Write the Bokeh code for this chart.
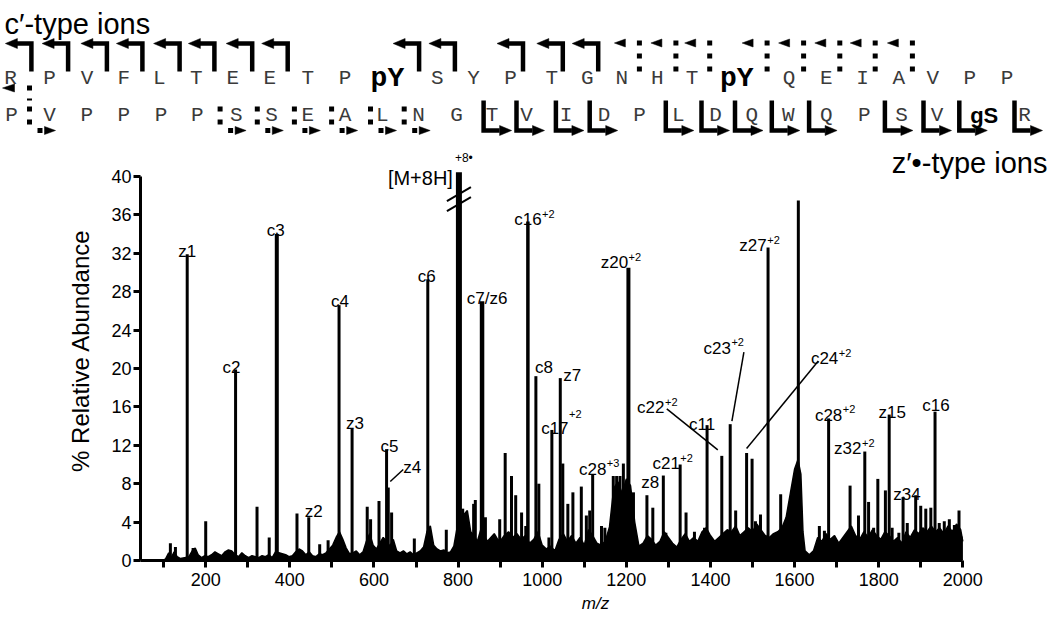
from bokeh.plotting import figure
from bokeh.layouts import column
from bokeh.models import Range1d, FixedTicker
from bokeh.core.properties import value
from bokeh.embed import file_html
from bokeh.resources import INLINE

# ======================= DATA =======================
# peptide sequence map (two rows)
seq_row1 = ["R", "P", "V", "F", "L", "T", "E", "E", "T", "P", "pY", "S", "Y", "P", "T", "G",
            "N", "H", "T", "pY", "Q", "E", "I", "A", "V", "P", "P"]
seq_row2 = ["P", "V", "P", "P", "P", "P", "S", "S", "E", "A", "L", "N", "G", "T", "V", "I",
            "D", "P", "L", "D", "Q", "W", "Q", "P", "S", "V", "gS", "R"]
# observed cleavages (index of residue before the cut)
c_solid_row1 = [0, 1, 2, 3, 4, 5, 6, 7, 10, 11, 13, 14, 15]
c_dotted_row1 = [16, 17, 18, 19, 20, 21, 22, 23]
c_dotted_row2 = [0]
z_solid_row2 = [12, 13, 14, 15, 17, 18, 19, 20, 21, 23, 24, 25, 26]
z_dotted_row2 = [0, 5, 6, 7, 8, 9, 10]

# labelled fragment peaks
ion_name = ["z1", "c2", "c3", "z2", "c4", "z3", "c5", "z4", "c6", "[M+8H]", "c7/z6", "c16", "c8",
            "c17", "z7", "c28", "z20", "z8", "c21", "c11", "c22", "c23", "c24", "z27", "c28",
            "z32", "z15", "z34", "c16"]
ion_charge = ["", "", "", "", "", "", "", "", "", "+8•", "", "+2", "", "+2", "", "+3", "+2", "",
              "+2", "", "+2", "+2", "+2", "+2", "+2", "+2", "", "", ""]
ion_mz = [156, 271, 369, 445, 517, 548, 630, 634, 728, 802, 857, 966, 985, 1023, 1043, 1120,
          1205, 1288, 1328, 1392, 1427, 1447, 1486, 1537, 1681, 1767, 1825, 1858, 1934]
ion_ab = [31.9, 19.9, 34.0, 4.5, 26.6, 13.7, 11.6, 7.6, 29.3, 40.45, 27.0, 35.3, 19.2, 13.6, 19.0,
          9.0, 30.5, 8.85, 10.0, 14.1, 10.9, 14.2, 11.2, 32.6, 14.8, 11.35, 15.2, 6.6, 15.5]

# other (unlabelled) peaks
other_mz = [116, 128, 170, 200, 322, 351, 417, 471, 491, 584, 592, 612, 642, 696, 772, 811, 837,
            841, 865, 885, 899, 912, 927, 937, 951, 961, 992, 1016, 1049, 1061, 1073, 1093, 1105,
            1113, 1141, 1149, 1169, 1177, 1185, 1193, 1217, 1249, 1263, 1294, 1342, 1362, 1386,
            1460, 1499, 1507, 1519, 1567, 1583, 1609, 1659, 1671, 1732, 1752, 1776, 1788, 1798,
            1816, 1832, 1848, 1868, 1888, 1900, 1912, 1924, 1944, 1956, 1968, 1980, 1991, 1996]
other_ab = [1.8, 1.4, 1.3, 4.1, 5.6, 2.4, 4.9, 1.7, 2.1, 5.6, 4.3, 6.2, 5.0, 2.3, 3.2, 5.4, 5.9,
            6.3, 4.5, 2.4, 4.3, 11.2, 8.8, 6.8, 5.0, 3.6, 8.0, 2.4, 10.1, 5.9, 7.1, 7.7, 4.7,
            5.2, 3.6, 3.4, 8.8, 8.8, 8.8, 10.1, 7.1, 6.8, 5.5, 2.9, 5.0, 3.0, 3.4,
            5.2, 10.6, 4.1, 4.8, 6.9, 3.7, 37.5, 3.6, 3.1, 7.8, 4.7, 6.1, 3.4, 8.5,
            7.3, 3.4, 2.9, 3.9, 6.8, 5.7, 5.4, 5.5, 3.9, 4.1, 4.3, 3.7, 5.2, 2.5]

# baseline noise envelope
noise_mz = [45, 100, 105, 112, 118, 125, 132, 140, 150, 160, 168, 175, 182, 190, 198, 206, 214,
            222, 230, 238, 246, 254, 262, 270, 278, 286, 294, 302, 310, 318, 326, 334, 342, 350,
            358, 366, 374, 382, 390, 398, 406, 414, 422, 430, 438, 446, 454, 462, 470, 478, 486,
            494, 502, 510, 518, 526, 534, 542, 550, 558, 566, 574, 582, 590, 598, 606, 614, 622,
            630, 638, 646, 654, 662, 670, 678, 686, 694, 702, 710, 718, 726, 734, 742, 750, 758,
            766, 774, 782, 790, 798, 806, 814, 822, 830, 838, 846, 854, 862, 870, 878, 886, 894,
            900, 910, 920, 930, 940, 950, 960, 970, 980, 990, 1000, 1010, 1020, 1030, 1040, 1050,
            1060, 1070, 1080, 1090, 1100, 1110, 1120, 1130, 1140, 1150, 1160, 1170, 1180, 1190,
            1200, 1210, 1220, 1230, 1240, 1250, 1260, 1270, 1280, 1290, 1300, 1310, 1320, 1330,
            1340, 1350, 1360, 1370, 1380, 1390, 1400, 1410, 1420, 1430, 1440, 1450, 1460, 1470,
            1480, 1490, 1500, 1510, 1520, 1530, 1540, 1550, 1560, 1570, 1580, 1590, 1600, 1608,
            1615, 1620, 1625, 1635, 1645, 1655, 1665, 1675, 1685, 1695, 1705, 1715, 1725, 1735,
            1745, 1755, 1765, 1775, 1785, 1795, 1805, 1815, 1825, 1835, 1845, 1855, 1865, 1875,
            1885, 1895, 1905, 1915, 1925, 1935, 1945, 1955, 1965, 1975, 1985, 1995, 2000]
noise_ab = [0, 0, 0.2, 0.8, 0.3, 0.9, 0.4, 0.2, 0.3, 0.4, 1.0, 1.3, 0.6, 0.3, 0.5, 0.4, 0.6,
            0.9, 0.7, 0.5, 0.9, 1.1, 1.0, 0.6, 0.4, 0.8, 0.5, 0.3, 0.5, 0.4, 0.3, 0.5, 0.4, 0.6,
            0.3, 0.9, 0.8, 0.7, 0.6, 0.4, 0.5, 0.9, 1.2, 1.0, 0.6, 0.9, 0.5, 0.4, 0.7, 0.6, 0.8,
            1.2, 1.6, 2.4, 3.0, 2.2, 1.3, 0.7, 0.8, 1.0, 0.6, 0.9, 2.0, 2.8, 1.6, 1.2, 1.8, 2.4,
            2.0, 1.5, 2.2, 1.0, 0.8, 1.0, 0.7, 0.9, 0.6, 0.8, 1.0, 1.4, 3.0, 3.6, 1.6, 1.2, 1.0,
            1.1, 0.8, 0.9, 1.5, 3.5, 4.5, 4.8, 5.2, 3.0, 2.6, 2.0, 3.2, 2.5, 2.0, 2.4, 2.8, 2.2,
            2.0, 2.6, 3.0, 2.4, 2.8, 2.2, 2.6, 1.8, 2.2, 3.0, 1.6, 1.2, 1.5, 1.0, 2.2, 2.8,
            2.0, 2.6, 1.8, 2.4, 1.6, 3.2, 2.6, 1.8, 1.6, 2.0, 3.5, 7.5, 8.2, 7.0,
            8.5, 7.8, 4.0, 1.5, 1.8, 2.6, 2.2, 1.6, 2.0, 3.0, 2.4, 1.8, 1.4, 2.2,
            2.8, 2.0, 2.4, 2.0, 3.0, 3.4, 2.6, 2.0, 2.4, 2.8, 3.2, 3.0, 3.6, 2.6,
            3.0, 3.4, 3.0, 3.8, 3.2, 2.6, 2.4, 2.8, 3.0, 3.4, 4.5, 7.0, 9.5, 10.5,
            9.0, 3.0, 1.0, 0.6, 1.0, 2.4, 2.0, 2.8, 2.2, 2.6, 1.8, 2.4, 3.0, 3.6,
            2.6, 2.2, 3.0, 2.4, 3.2, 2.6, 2.2, 3.0, 2.6, 2.0, 2.4, 1.8, 3.0, 2.4,
            3.2, 2.8, 3.4, 3.0, 3.6, 3.0, 3.4, 2.8, 3.6, 3.0, 3.8, 3.2, 2.0]

x_ticks = list(range(100, 2001, 100))
y_ticks = list(range(0, 41, 4))

# ======================= LAYOUT (page pixels, page has no margin) =======================
FONT = "Liberation Sans"
W = 1050
H_MAP = 140
H_SPEC = 477
BL, BB = 140, 57
FW, FH = W - BL, H_SPEC - BB
PXM = 0.4206                 # px per m/z unit
PXA = 9.6                    # px per % abundance
X0 = 44.95
X1 = X0 + FW / PXM
Y0, Y1 = 0.0, FH / PXA
PAGE_L, PAGE_T = BL, H_MAP   # page position of the spectrum frame's top-left corner


def mz_at(px):
    return X0 + (px - PAGE_L) / PXM


def ab_at(py):
    return Y1 - (py - PAGE_T) / PXA


# label offsets (px): base text centre dx, baseline height above peak top
ion_lbl = [(0, 3), (-4, 2), (-1, 4), (5, 6), (1, 4), (3, 5), (3, 3), (24, 20), (-1, 3), None,
           (5, 3), (0, 2), (8, 9), (3, 1), (12, 3), (0, 5), (-14, 5), (-13, -7), (-14, 1),
           (-5, 1), (-71, 48), (-13, 76), (78, 94), (-15, 2), (0, 3), (-17, 3), (3, 2), (4, 3),
           (1, 6)]
sup_raise = {13: 15}
ion_lw = {2: 4, 9: 6, 10: 4.5, 11: 3.5, 16: 4}
leaders = {7: ((15, 18), (2, 6)), 20: ((-55, 47), (-4, 6)), 21: ((13.7, 72), (1.7, 3)),
           22: ((71.7, 92), (0, 4.4))}

CW = {"c": 0.5, "z": 0.5, "/": 0.278}


def twidth(s, fs):
    return sum(CW.get(ch, 0.556) for ch in s) * fs


# ======================= SPECTRUM =======================
p = figure(width=W, height=H_SPEC, x_range=Range1d(X0, X1), y_range=Range1d(Y0, Y1),
           toolbar_location=None, output_backend="svg", frame_align=False,
           min_border_left=BL, min_border_right=0, min_border_top=0, min_border_bottom=BB)
p.grid.visible = False
p.outline_line_color = None
p.background_fill_color = "white"

p.varea(x=noise_mz, y1=[0] * len(noise_mz), y2=noise_ab, fill_color="black")
p.line(x=noise_mz, y=noise_ab, line_color="black", line_width=1.5)
p.segment(x0=other_mz, y0=[0] * len(other_mz), x1=other_mz, y1=other_ab,
          line_color="black", line_width=3, line_cap="butt")
lw = [ion_lw.get(i, 3) for i in range(len(ion_mz))]
p.segment(x0=ion_mz, y0=[0] * len(ion_mz), x1=ion_mz, y1=ion_ab,
          line_color="black", line_width=lw, line_cap="butt")

bx, by, bt, bdx, bdy = [], [], [], [], []
sx, sy, st, sdx, sdy = [], [], [], [], []
for i, nm in enumerate(ion_name):
    if ion_lbl[i] is None:
        continue
    dx, dy = ion_lbl[i]
    bx.append(ion_mz[i]); by.append(ion_ab[i]); bt.append(nm)
    bdx.append(dx); bdy.append(-dy)
    if ion_charge[i]:
        sx.append(ion_mz[i]); sy.append(ion_ab[i]); st.append(ion_charge[i])
        sdx.append(dx + twidth(nm, 17) / 2 + 0.5)
        sdy.append(-(dy + sup_raise.get(i, 6)))
p.text(x=bx, y=by, text=bt, x_offset=bdx, y_offset=bdy, text_align="center",
       text_baseline="alphabetic", text_font=value(FONT), text_font_size="17px",
       text_color="black")
p.text(x=sx, y=sy, text=st, x_offset=sdx, y_offset=sdy, text_align="left",
       text_baseline="alphabetic", text_font=value(FONT), text_font_size="11px",
       text_color="black")

im = ion_name.index("[M+8H]")
p.text(x=[ion_mz[im]], y=[ion_ab[im]], text=["[M+8H]"], x_offset=[-6], y_offset=[6],
       text_align="right", text_baseline="alphabetic", text_font=value(FONT),
       text_font_size="20px", text_color="black")
p.text(x=[ion_mz[im]], y=[ion_ab[im]], text=[ion_charge[im]], x_offset=[-4], y_offset=[-14],
       text_align="left", text_baseline="alphabetic", text_font=value(FONT),
       text_font_size="12px", text_color="black")
bk_x0, bk_y0, bk_x1, bk_y1 = [], [], [], []
for c in (22, 32):
    bk_x0.append(ion_mz[im] - 12 / PXM); bk_y0.append(ion_ab[im] - (c + 7) / PXA)
    bk_x1.append(ion_mz[im] + 12 / PXM); bk_y1.append(ion_ab[im] - (c - 7) / PXA)
p.segment(x0=bk_x0, y0=bk_y0, x1=bk_x1, y1=bk_y1, line_color="black", line_width=2)

lx0, ly0, lx1, ly1 = [], [], [], []
for i, ((ax, ay), (cx, cy)) in leaders.items():
    lx0.append(ion_mz[i] + ax / PXM); ly0.append(ion_ab[i] + ay / PXA)
    lx1.append(ion_mz[i] + cx / PXM); ly1.append(ion_ab[i] + cy / PXA)
p.segment(x0=lx0, y0=ly0, x1=lx1, y1=ly1, line_color="black", line_width=1.5)

p.text(x=[mz_at(1047)], y=[ab_at(162)], text=["z′•-type ions"], text_align="right",
       text_baseline="alphabetic", text_font=value(FONT), text_font_size="29px",
       text_color="black")

p.xaxis.ticker = FixedTicker(ticks=x_ticks)
p.xaxis.major_label_overrides = {t: ("" if t % 200 else str(t)) for t in x_ticks}
p.yaxis.ticker = FixedTicker(ticks=y_ticks)
p.xaxis.bounds = (X0, 2000)
p.yaxis.bounds = (0, 40)
p.axis.axis_line_width = 3
p.axis.axis_line_color = "black"
p.axis.major_tick_line_width = 3
p.axis.major_tick_line_color = "black"
p.axis.major_tick_out = 7
p.axis.major_tick_in = 0
p.axis.minor_tick_line_color = None
p.axis.major_label_text_font = FONT
p.axis.major_label_text_font_size = "18px"
p.axis.major_label_text_color = "black"
p.xaxis.major_label_standoff = 5
p.yaxis.major_label_standoff = 2
p.xaxis.axis_label = "m/z"
p.xaxis.axis_label_text_font_style = "italic"
p.xaxis.axis_label_text_font_size = "17px"
p.xaxis.axis_label_standoff = 5
p.yaxis.axis_label = "% Relative Abundance"
p.yaxis.axis_label_text_font_style = "normal"
p.yaxis.axis_label_text_font_size = "24px"
p.yaxis.axis_label_standoff = 14
p.axis.axis_label_text_font = FONT
p.axis.axis_label_text_color = "black"

# ======================= SEQUENCE MAP =======================
row1_x = [10.1, 49, 86.5, 123.4, 158.8, 195.9, 232.3, 269.4, 307.4, 344.6, 386.9, 436.7, 473,
          510.1, 551.2, 586.7, 621.4, 656.8, 691.5, 736.2, 788.6, 825.8, 862.1, 898.4, 932.2,
          969.3, 1006.5]
row2_x = [11, 49, 86.2, 123.4, 160.5, 196.8, 235.7, 271.1, 307.4, 344.6, 381.8, 418.1, 456.1,
          491.6, 526, 565.6, 603.6, 639.1, 677.9, 715.1, 751.4, 787.8, 825.8, 863.8, 901.1,
          936.6, 983.7, 1024]
ROW1_BASE, ROW2_BASE = 78, 115
c_solid_row1_x = [30.9, 67.6, 106.4, 141.9, 179.1, 213.9, 251.7, 287.2, 418.6, 454.4, 522.5,
                  562.3, 597.7]
c_dotted_row1_x = [638.9, 675.4, 709.2, 766.6, 803.1, 839.3, 874.7, 911.9]
c_dotted_row2_x = [29]
z_solid_row2_x = [483.1, 516, 555.4, 589.2, 665.3, 701, 734.5, 771.3, 808.6, 884.4, 923, 958.8,
                  1014]
z_dotted_row2_x = [29, 219.6, 256.8, 293.9, 331.1, 370, 403.7]

m = figure(width=W, height=H_MAP, x_range=Range1d(0, W), y_range=Range1d(H_MAP, 0),
           toolbar_location=None, output_backend="svg", min_border=0, frame_align=False,
           x_axis_location=None, y_axis_location=None)
m.grid.visible = False
m.outline_line_color = None

m.text(x=[4], y=[23], text=["c′-type ions"], text_font=value(FONT), text_font_size="29px",
       text_baseline="alphabetic", text_align="left", text_color="black")


def draw_letters(xs, seq, base):
    nx, nt, bx_, bt_, gx, gt = [], [], [], [], [], []
    for x, s in zip(xs, seq):
        if s == "pY":
            bx_.append(x); bt_.append(s)
        elif s == "gS":
            gx.append(x); gt.append(s)
        else:
            nx.append(x); nt.append(s)
    m.text(x=nx, y=[base] * len(nx), text=nt, text_font=value("Liberation Mono"),
           text_font_size="21px", text_align="center", text_baseline="alphabetic",
           text_color="#3a3a3a")
    if bx_:
        m.text(x=bx_, y=[base] * len(bx_), text=bt_, text_font=value("Liberation Mono"),
               text_font_size="28px", text_font_style="bold", text_align="center",
               text_baseline="alphabetic", text_color="black")
    if gx:
        m.text(x=gx, y=[base] * len(gx), text=gt, text_font=value(FONT),
               text_font_size="22px", text_font_style="bold", text_align="center",
               text_baseline="alphabetic", text_color="black")


draw_letters(row1_x, seq_row1, ROW1_BASE)
draw_letters(row2_x, seq_row2, ROW2_BASE)

sol_xs, sol_ys, head_xs, head_ys = [], [], [], []
dot_xs, dot_ys = [], []
for v in c_solid_row1_x:
    sol_xs.append([v - 15, v, v]); sol_ys.append([43, 43, 71])
    head_xs.append([v - 26, v - 14, v - 14]); head_ys.append([43, 38, 48])
for v in c_dotted_row1_x:
    dot_xs.append([v, v]); dot_ys.append([40, 72])
    head_xs.append([v - 25, v - 14, v - 14]); head_ys.append([42.5, 38.5, 46.5])
for v in c_dotted_row2_x:
    dot_xs.append([v, v]); dot_ys.append([85, 100])
    head_xs.append([v - 27, v - 15, v - 15]); head_ys.append([87.5, 83.5, 91.5])
for v in z_solid_row2_x:
    sol_xs.append([v, v, v + 16]); sol_ys.append([100, 130, 130])
    head_xs.append([v + 28, v + 16, v + 16]); head_ys.append([130, 125, 135])
for v in z_dotted_row2_x:
    dot_xs.append([v, v]); dot_ys.append([106, 132])
    dot_xs.append([v + 8, v + 14]); dot_ys.append([130, 130])
    head_xs.append([v + 26, v + 15, v + 15]); head_ys.append([130, 126, 134])

m.multi_line(xs=sol_xs, ys=sol_ys, line_color="black", line_width=4.5, line_join="miter",
             line_cap="butt")
m.multi_line(xs=dot_xs, ys=dot_ys, line_color="black", line_width=5, line_dash="5 8",
             line_cap="butt")
m.patches(xs=head_xs, ys=head_ys, fill_color="black", line_color="black", line_width=0.5)

layout = column(m, p, spacing=0)
open("out.html", "w").write(file_html(layout, INLINE))
